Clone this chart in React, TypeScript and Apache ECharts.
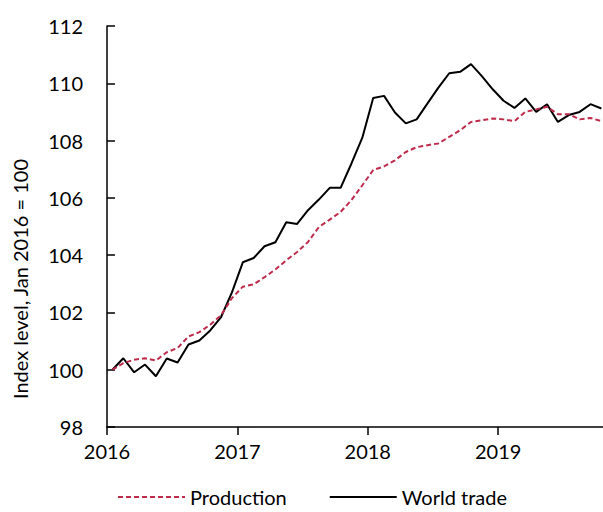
import React, { useEffect, useRef } from "react";
import * as echarts from "echarts";

const startYear = 2016;
const yTicks = { min: 98, max: 112, interval: 2 };
const seriesNames = ["Production", "World trade"];
const yAxisTitle = "Index level, Jan 2016 = 100";

// Monthly values, Jan 2016 .. Oct 2019
const production = [
  100.0, 100.23, 100.35, 100.4, 100.32, 100.61, 100.76, 101.16, 101.31, 101.57, 101.9, 102.5,
  102.9, 102.98, 103.23, 103.5, 103.82, 104.11, 104.46, 104.98, 105.24, 105.51, 105.92, 106.44,
  106.97, 107.1, 107.31, 107.6, 107.77, 107.84, 107.9, 108.13, 108.36, 108.65, 108.71, 108.77,
  108.74, 108.68, 109.0, 109.09, 109.18, 108.92, 108.92, 108.74, 108.79, 108.68,
];
const worldTrade = [
  100.0, 100.4, 99.91, 100.18, 99.77, 100.39, 100.25, 100.88, 101.02, 101.37, 101.84, 102.7,
  103.75, 103.9, 104.31, 104.45, 105.15, 105.09, 105.57, 105.94, 106.35, 106.35, 107.2, 108.1,
  109.49, 109.56, 108.98, 108.6, 108.74, 109.3, 109.85, 110.35, 110.4, 110.67, 110.25, 109.79,
  109.39, 109.14, 109.47, 109.0, 109.27, 108.65, 108.89, 109.0, 109.27, 109.12,
];

const toPoints = (vals: number[]) => vals.map((v, i) => [i + 0.5, v]);

const FONT = "Lato, 'Open Sans', sans-serif";

export default function App() {
  const ref = useRef<HTMLDivElement>(null);
  useEffect(() => {
    if (!ref.current) return;
    const chart = echarts.init(ref.current, null, { renderer: "svg" });
    chart.setOption({
      animation: false,
      backgroundColor: "#ffffff",
      textStyle: { fontFamily: FONT },
      grid: { left: 107, top: 26, right: 0, height: 401 },
      xAxis: {
        type: "value",
        min: 0,
        max: 45.65,
        interval: 12,
        axisLine: { show: true, lineStyle: { color: "#000", width: 1.5 } },
        axisTick: { show: true, inside: false, length: 8, lineStyle: { color: "#000", width: 1.5 } },
        axisLabel: {
          color: "#000",
          fontSize: 20,
          fontFamily: FONT,
          margin: 14,
          showMaxLabel: false,
          formatter: (v: number) => String(startYear + Math.round(v / 12)),
        },
        splitLine: { show: false },
      },
      yAxis: {
        type: "value",
        min: yTicks.min,
        max: yTicks.max,
        interval: yTicks.interval,
        axisLine: { show: true, lineStyle: { color: "#000", width: 1.5 } },
        axisTick: { show: true, inside: true, length: 8, lineStyle: { color: "#000", width: 1.5 } },
        axisLabel: { color: "#000", fontSize: 20, fontFamily: FONT, margin: 24 },
        splitLine: { show: false },
      },
      legend: {
        left: 112,
        top: 482,
        itemWidth: 67,
        itemHeight: 10,
        itemGap: 42,
        itemStyle: { color: "rgba(0,0,0,0)", borderWidth: 0, opacity: 0 },
        textStyle: { color: "#000", fontSize: 20, fontFamily: FONT },
        data: seriesNames,
      },
      graphic: [
        {
          type: "text",
          x: 20,
          y: 279,
          rotation: Math.PI / 2,
          style: {
            text: yAxisTitle,
            fill: "#000",
            font: `20px ${FONT}`,
            align: "center",
            verticalAlign: "middle",
          },
        },
      ],
      series: [
        {
          name: seriesNames[0],
          type: "line",
          data: toPoints(production),
          symbol: "none",
          color: "#BE2B4A",
          lineStyle: { color: "#BE2B4A", width: 2, type: [5, 3] },
          z: 3,
        },
        {
          name: seriesNames[1],
          type: "line",
          data: toPoints(worldTrade),
          symbol: "none",
          color: "#000000",
          lineStyle: { color: "#000000", width: 2 },
          z: 2,
        },
      ],
    });
    return () => chart.dispose();
  }, []);
  return <div ref={ref} style={{ width: 603, height: 512, position: "absolute", left: 0, top: 0 }} />;
}
